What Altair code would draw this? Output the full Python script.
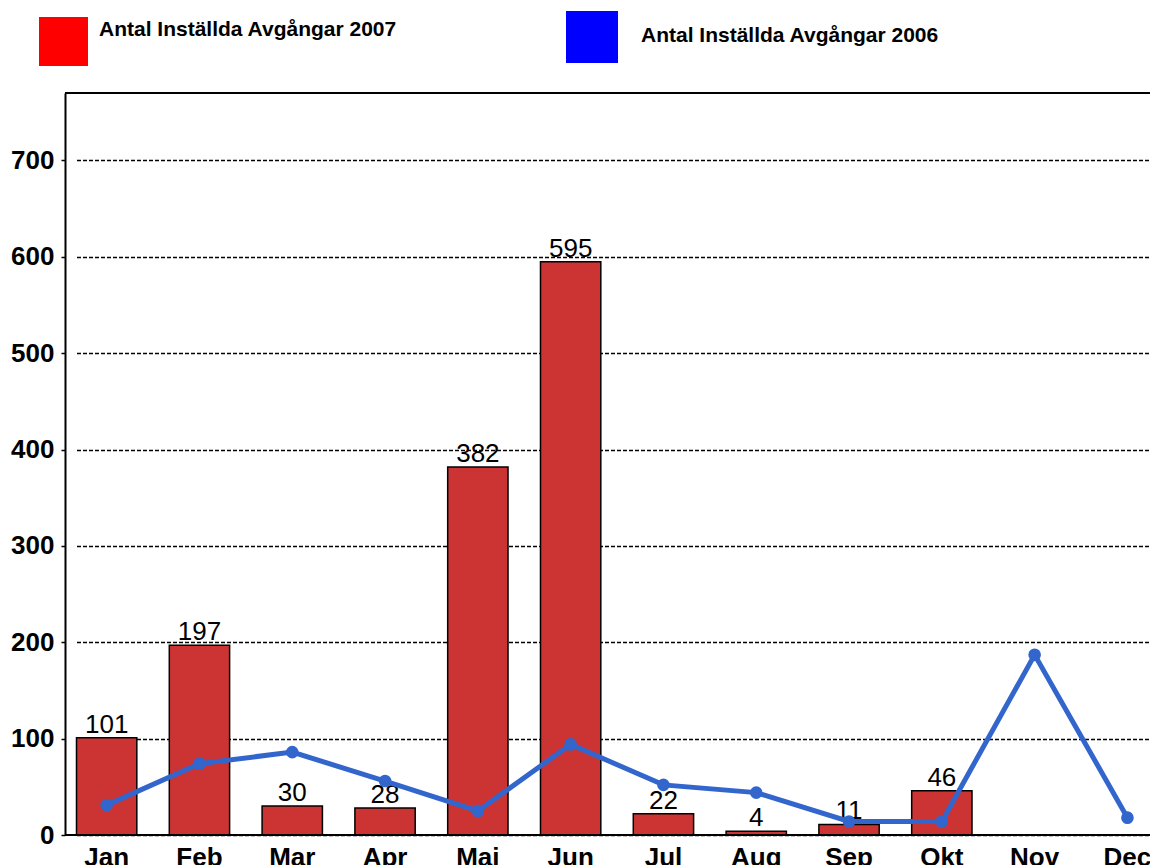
import altair as alt
import pandas as pd

months = ["Jan", "Feb", "Mar", "Apr", "Maj", "Jun", "Jul", "Aug", "Sep", "Okt", "Nov", "Dec"]
bar_months = ["Jan", "Feb", "Mar", "Apr", "Maj", "Jun", "Jul", "Aug", "Sep", "Okt"]
values_2007 = [101, 197, 30, 28, 382, 595, 22, 4, 11, 46]
values_2006 = [31, 74, 86, 56, 25, 94, 52, 44, 14, 14, 187, 18]
y_ticks = [0, 100, 200, 300, 400, 500, 600, 700]
label_2007 = "Antal Inställda Avgångar 2007"
label_2006 = "Antal Inställda Avgångar 2006"

bars_df = pd.DataFrame({"month": bar_months, "value": values_2007})
line_df = pd.DataFrame({"month": months, "value": values_2006})

FONT = "Liberation Sans"
W, H = 1085, 742

xscale = alt.Scale(domain=months, range=[11.5, 1092.6], paddingInner=0.35, paddingOuter=0)
yscale = alt.Scale(domain=[0, 770], nice=False, zero=True)

xenc = alt.X("month:N", scale=xscale, sort=months, title=None,
             axis=alt.Axis(labelAngle=0, ticks=False, tickSize=0, domain=False,
                           labelFont=FONT, labelFontSize=26, labelFontWeight="bold",
                           labelColor="black", labelPadding=9, grid=False))
yenc = alt.Y("value:Q", scale=yscale, title=None,
             axis=alt.Axis(values=y_ticks, tickSize=4, tickColor="black", tickWidth=1.5,
                           domain=True, domainColor="black", domainWidth=2,
                           labelFont=FONT, labelFontSize=26, labelFontWeight="bold",
                           labelColor="black", labelPadding=7,
                           grid=True, gridColor="black", gridDash=[4, 2], gridWidth=1.3,
                           gridOpacity=1))

bars = alt.Chart(bars_df).mark_bar(color="#CC3333", stroke="black", strokeWidth=1.5).encode(
    x=xenc, y=yenc)

bar_text = alt.Chart(bars_df).mark_text(font=FONT, fontSize=26, color="black",
                                         baseline="alphabetic", dy=-5).encode(
    x=alt.X("month:N", scale=xscale, sort=months),
    y=alt.Y("value:Q", scale=yscale),
    text="value:Q")

line = alt.Chart(line_df).mark_line(color="#3366CC", strokeWidth=5).encode(
    x=alt.X("month:N", scale=xscale, sort=months),
    y=alt.Y("value:Q", scale=yscale))

points = alt.Chart(line_df).mark_point(filled=True, color="#3366CC", size=160, opacity=1).encode(
    x=alt.X("month:N", scale=xscale, sort=months),
    y=alt.Y("value:Q", scale=yscale))

one = alt.Data(values=[{}])

baseline = alt.Chart(one).mark_rule(color="black", strokeWidth=2).encode(
    y=alt.datum(0, scale=yscale), x=alt.value(0), x2=alt.value(1110))
topline = alt.Chart(one).mark_rule(color="black", strokeWidth=2).encode(
    y=alt.value(0), x=alt.value(0), x2=alt.value(1110))

leg_red = alt.Chart(one).mark_rect(color="#FF0000").encode(
    x=alt.value(-26), x2=alt.value(23), y=alt.value(-76), y2=alt.value(-27))
leg_blue = alt.Chart(one).mark_rect(color="#0000FF").encode(
    x=alt.value(501), x2=alt.value(553), y=alt.value(-82), y2=alt.value(-30))
leg_red_text = alt.Chart(one).mark_text(font=FONT, fontSize=21, fontWeight="bold",
                                         align="left", baseline="alphabetic", color="black").encode(
    x=alt.value(34), y=alt.value(-57), text=alt.value(label_2007))
leg_blue_text = alt.Chart(one).mark_text(font=FONT, fontSize=21, fontWeight="bold",
                                          align="left", baseline="alphabetic", color="black").encode(
    x=alt.value(576), y=alt.value(-51), text=alt.value(label_2006))

chart = alt.layer(
    bars, bar_text, line, points, baseline, topline,
    leg_red, leg_blue, leg_red_text, leg_blue_text
).properties(
    width=W, height=H,
    autosize=alt.AutoSizeParams(type="none"),
    padding={"left": 57, "top": 85, "right": 0, "bottom": 30},
).configure_view(stroke=None).configure(background="white")

chart.save("out.html", embed_options={"renderer": "svg", "actions": False})
